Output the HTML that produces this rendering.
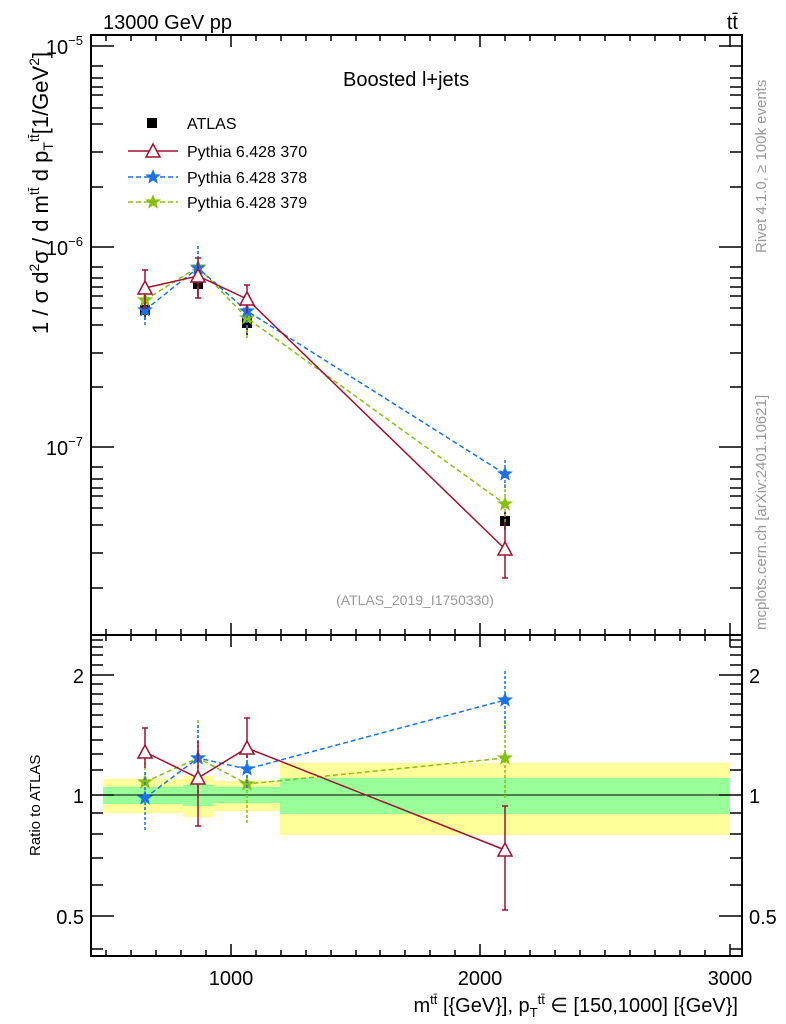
<!DOCTYPE html>
<html><head><meta charset="utf-8"><style>
html,body{margin:0;padding:0;background:#fff;}
svg{display:block;font-family:"Liberation Sans",sans-serif;}
</style></head><body>
<svg width="786" height="1024" viewBox="0 0 786 1024" xmlns="http://www.w3.org/2000/svg">
<defs>
<g id="star"><polygon points="0,-6 1.6,-2 6,-1.9 2.6,0.8 3.7,5 0,2.6 -3.7,5 -2.6,0.8 -6,-1.9 -1.6,-2" stroke-width="1.4"/></g>
</defs>
<g>
<rect x="103" y="779" width="80" height="34" fill="#ffff99"/>
<rect x="183" y="776" width="31" height="41" fill="#ffff99"/>
<rect x="214" y="781" width="66" height="30" fill="#ffff99"/>
<rect x="280" y="763" width="450" height="72" fill="#ffff99"/>
<rect x="103" y="787" width="80" height="17" fill="#99ff99"/>
<rect x="183" y="785" width="31" height="21" fill="#99ff99"/>
<rect x="214" y="787" width="66" height="16" fill="#99ff99"/>
<rect x="280" y="778" width="450" height="36" fill="#99ff99"/>
<line x1="91" y1="795" x2="742" y2="795" stroke="#000" stroke-width="1"/>
</g>
<rect x="91" y="35" width="651" height="600" fill="none" stroke="#000" stroke-width="2"/>
<rect x="91" y="635" width="651" height="321" fill="none" stroke="#000" stroke-width="2"/>
<g stroke="#000" stroke-width="1.5">
<path d="M106,35v6M131,35v6M156,35v6M181,35v6M206,35v6M256,35v6M281,35v6M306,35v6M331,35v6M356,35v6M380,35v6M405,35v6M430,35v6M455,35v6M505,35v6M530,35v6M555,35v6M580,35v6M605,35v6M630,35v6M655,35v6M680,35v6M705,35v6"/>
<path d="M231,35v12M480,35v12M730,35v12"/>
<path d="M106,635v-6M131,635v-6M156,635v-6M181,635v-6M206,635v-6M256,635v-6M281,635v-6M306,635v-6M331,635v-6M356,635v-6M380,635v-6M405,635v-6M430,635v-6M455,635v-6M505,635v-6M530,635v-6M555,635v-6M580,635v-6M605,635v-6M630,635v-6M655,635v-6M680,635v-6M705,635v-6"/>
<path d="M231,635v-12M480,635v-12M730,635v-12"/>
<path d="M106,635v6M131,635v6M156,635v6M181,635v6M206,635v6M256,635v6M281,635v6M306,635v6M331,635v6M356,635v6M380,635v6M405,635v6M430,635v6M455,635v6M505,635v6M530,635v6M555,635v6M580,635v6M605,635v6M630,635v6M655,635v6M680,635v6M705,635v6"/>
<path d="M231,635v12M480,635v12M730,635v12"/>
<path d="M106,956v-6M131,956v-6M156,956v-6M181,956v-6M206,956v-6M256,956v-6M281,956v-6M306,956v-6M331,956v-6M356,956v-6M380,956v-6M405,956v-6M430,956v-6M455,956v-6M505,956v-6M530,956v-6M555,956v-6M580,956v-6M605,956v-6M630,956v-6M655,956v-6M680,956v-6M705,956v-6"/>
<path d="M231,956v-12M480,956v-12M730,956v-12"/>
</g>
<g stroke="#000" stroke-width="1.5">
<path d="M91,46h23M91,247h23M91,447h23M742,46h-23M742,247h-23M742,447h-23"/>
<path d="M91,66h12M91,78h12M91,87h12M91,95h12M91,108h12M91,124h12M91,152h12M91,187h12
M91,267h12M91,278h12M91,287h12M91,296h12M91,308h12M91,325h12M91,353h12M91,387h12
M91,467h12M91,479h12M91,488h12M91,496h12M91,508h12M91,525h12M91,553h12M91,588h12"/>
<path d="M742,66h-12M742,78h-12M742,87h-12M742,95h-12M742,108h-12M742,124h-12M742,152h-12M742,187h-12
M742,267h-12M742,278h-12M742,287h-12M742,296h-12M742,308h-12M742,325h-12M742,353h-12M742,387h-12
M742,467h-12M742,479h-12M742,488h-12M742,496h-12M742,508h-12M742,525h-12M742,553h-12M742,588h-12"/>
<path d="M91,675h23M91,795h23M91,916h23M742,675h-23M742,795h-23M742,916h-23"/>
<path d="M91,640h12M91,647h12M91,655h12M91,665h12M91,684h12M91,694h12M91,704h12M91,715h12M91,727h12M91,740h12M91,754h12M91,770h12M91,813h12M91,834h12M91,858h12M91,885h12M91,949h12"/>
<path d="M742,640h-12M742,647h-12M742,655h-12M742,665h-12M742,684h-12M742,694h-12M742,704h-12M742,715h-12M742,727h-12M742,740h-12M742,754h-12M742,770h-12M742,813h-12M742,834h-12M742,858h-12M742,885h-12M742,949h-12"/>
</g>
<g font-size="20" fill="#000">
<text x="103" y="29">13000 GeV pp</text>
<text x="738" y="29" text-anchor="end">tt̄</text>
<text x="343" y="86">Boosted l+jets</text>
<text x="231" y="985" text-anchor="middle">1000</text>
<text x="480" y="985" text-anchor="middle">2000</text>
<text x="730" y="985" text-anchor="middle">3000</text>
<text x="738" y="1012" text-anchor="end">m<tspan font-size="13" dy="-8">tt̄</tspan><tspan dy="8"> [{GeV}], p</tspan><tspan font-size="13" dy="5">T</tspan><tspan font-size="13" dy="-13">tt̄</tspan><tspan dy="8"> ∈ [150,1000] [{GeV}]</tspan></text>
<text x="83" y="54" text-anchor="end">10<tspan font-size="13" dy="-9">−5</tspan></text>
<text x="83" y="255" text-anchor="end">10<tspan font-size="13" dy="-9">−6</tspan></text>
<text x="83" y="455" text-anchor="end">10<tspan font-size="13" dy="-9">−7</tspan></text>
<text x="84" y="683" text-anchor="end">2</text>
<text x="84" y="803" text-anchor="end">1</text>
<text x="84" y="924" text-anchor="end">0.5</text>
<text x="749" y="683">2</text>
<text x="749" y="803">1</text>
<text x="749" y="924">0.5</text>
<text transform="translate(48,334) rotate(-90)" font-size="22">1 / σ d<tspan font-size="14" dy="-9">2</tspan><tspan dy="9">σ / d  m</tspan><tspan font-size="14" dy="-9">tt̄</tspan><tspan dy="9"> d p</tspan><tspan font-size="14" dy="5">T</tspan><tspan font-size="14" dy="-14">tt̄</tspan><tspan dy="9">[1/GeV</tspan><tspan font-size="14" dy="-9">2</tspan><tspan dy="9">]</tspan></text>
</g>
<text transform="translate(40,856) rotate(-90)" font-size="15">Ratio to ATLAS</text>
<g font-size="15" fill="#999">
<text transform="translate(766,253) rotate(-90)">Rivet 4.1.0, ≥ 100k events</text>
<text transform="translate(766,630) rotate(-90)">mcplots.cern.ch [arXiv:2401.10621]</text>
<text x="415" y="605" text-anchor="middle" font-size="14">(ATLAS_2019_I1750330)</text>
</g>
<rect x="147" y="118" width="10" height="10" fill="#000"/>
<text x="187" y="129" font-size="16">ATLAS</text>
<line x1="128" y1="151" x2="178" y2="151" stroke="#a0112e" stroke-width="1.5"/>
<polygon points="153,144 160,157 146,157" fill="#fff" stroke="#a0112e" stroke-width="1.5"/>
<text x="187" y="157" font-size="16">Pythia 6.428 370</text>
<line x1="128" y1="177" x2="178" y2="177" stroke="#1a73e8" stroke-width="1.5" stroke-dasharray="5,3"/>
<use href="#star" x="153" y="177" stroke="#1a73e8" fill="#1a73e8"/>
<text x="187" y="183" font-size="16">Pythia 6.428 378</text>
<line x1="128" y1="202" x2="178" y2="202" stroke="#88c010" stroke-width="1.5" stroke-dasharray="5,3"/>
<use href="#star" x="153" y="202" stroke="#88c010" fill="#88c010"/>
<text x="187" y="208" font-size="16">Pythia 6.428 379</text>
<g stroke="#000" stroke-width="1.5">
<path d="M145,300v20M198,270v28M247,310v25M505,512v18"/>
</g>
<rect x="140" y="305" width="10" height="10"/><rect x="193" y="279" width="10" height="10"/><rect x="242" y="318" width="10" height="10"/><rect x="500" y="516" width="10" height="10"/>
<g stroke="#88c010" stroke-width="1.5" fill="none">
<polyline points="145,300 198,267 247,318 505,504" stroke-dasharray="5,3"/>
<path d="M145,282v36M198,246v44M247,300v38M505,484v40" stroke-dasharray="3,2"/>
</g>
<g stroke="#88c010" fill="#88c010"><use href="#star" x="145" y="300"/><use href="#star" x="198" y="267"/><use href="#star" x="247" y="318"/><use href="#star" x="505" y="504"/></g>
<g stroke="#1a73e8" stroke-width="1.5" fill="none">
<polyline points="145,310 198,268 247,311 505,474" stroke-dasharray="5,3"/>
<path d="M145,292v34M198,246v44M247,295v34M505,460v28" stroke-dasharray="3,2"/>
</g>
<g stroke="#1a73e8" fill="#1a73e8"><use href="#star" x="145" y="310"/><use href="#star" x="198" y="268"/><use href="#star" x="247" y="311"/><use href="#star" x="505" y="474"/></g>
<g stroke="#a0112e" stroke-width="1.5" fill="none">
<polyline points="145,288 198,276 247,299 505,549"/>
<path d="M145,270v38M198,258v40M247,285v28M505,522v56M142,270h6M142,308h6M195,258h6M195,298h6M244,285h6M502,578h6"/>
</g>
<g fill="#fff" stroke="#a0112e" stroke-width="1.5">
<polygon points="145,281 152,294 138,294"/><polygon points="198,269 205,282 191,282"/><polygon points="247,292 254,305 240,305"/><polygon points="505,542 512,555 498,555"/>
</g>
<g stroke="#88c010" stroke-width="1.5" fill="none">
<polyline points="145,782 198,758 247,784 505,758" stroke-dasharray="5,3"/>
<path d="M145,752v60M198,720v80M247,750v75M505,720v80" stroke-dasharray="3,2"/>
</g>
<g stroke="#88c010" fill="#88c010"><use href="#star" x="145" y="782"/><use href="#star" x="198" y="758"/><use href="#star" x="247" y="784"/><use href="#star" x="505" y="758"/></g>
<g stroke="#1a73e8" stroke-width="1.5" fill="none">
<polyline points="145,798 198,758 247,769 505,700" stroke-dasharray="5,3"/>
<path d="M145,772v58M198,725v70M247,740v50M505,671v60" stroke-dasharray="3,2"/>
</g>
<g stroke="#1a73e8" fill="#1a73e8"><use href="#star" x="145" y="798"/><use href="#star" x="198" y="758"/><use href="#star" x="247" y="769"/><use href="#star" x="505" y="700"/></g>
<g stroke="#a0112e" stroke-width="1.5" fill="none">
<polyline points="145,752 198,778 247,748 505,850"/>
<path d="M145,728v40M198,741v85M247,718v40M505,806v104M142,728h6M195,826h6M244,718h6M502,910h6M502,806h6"/>
</g>
<g fill="#fff" stroke="#a0112e" stroke-width="1.5">
<polygon points="145,745 152,758 138,758"/><polygon points="198,771 205,784 191,784"/><polygon points="247,741 254,754 240,754"/><polygon points="505,843 512,856 498,856"/>
</g>
</svg>
</body></html>
